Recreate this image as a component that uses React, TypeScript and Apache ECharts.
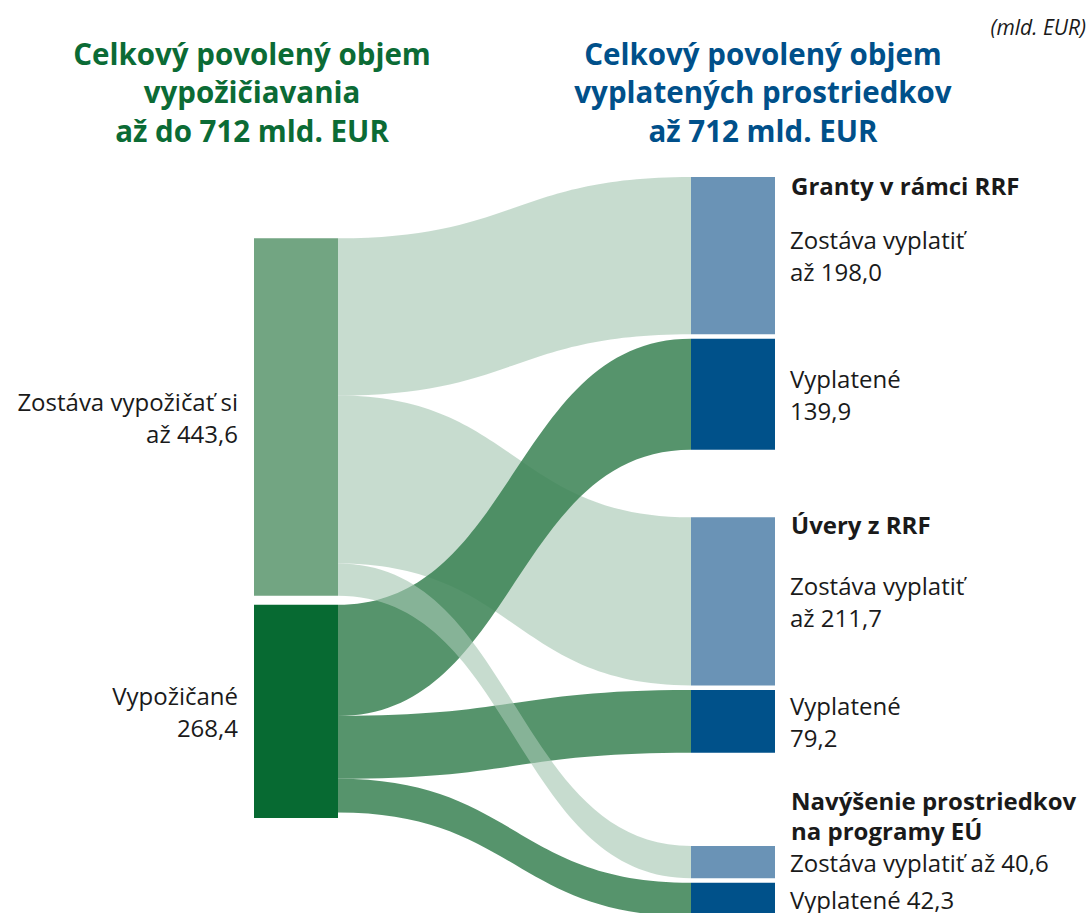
import React, { useEffect, useRef } from "react";
import * as echarts from "echarts";

// ---------------- data ----------------
const leftNames = ["Zostáva vypožičať si", "Vypožičané"];
const leftPrefix = ["až ", ""];
const leftValues = [443.6, 268.4];
const groupNames = ["Granty v rámci RRF", "Úvery z RRF", "Navýšenie prostriedkov\nna programy EÚ"];
const remainingName = "Zostáva vyplatiť";
const remainingPrefix = "až ";
const paidName = "Vyplatené";
const remainingValues = [198.0, 211.7, 40.6];
const paidValues = [139.9, 79.2, 42.3];
const leftTitle = ["Celkový povolený objem", "vypožičiavania", "až do 712 mld. EUR"];
const rightTitle = ["Celkový povolený objem", "vyplatených prostriedkov", "až 712 mld. EUR"];
const unitNote = "(mld. EUR)";

// ---------------- layout ----------------
const S_LEFT = 254;
const S_TOP = 177;
const S_WIDTH = 521;
const S_HEIGHT = 587.6;
const NODE_W = 84;
const NODE_GAP = 4.5;
const LEFT_START = 61.3;
const LEFT_GAP = 9;
const GROUP_GAPS = [67.5, 93.2];
const SINGLE_LINE = [false, false, true];
const HEADING_OFFSET = [8, 7, -30];
const LABEL_X = 791;

const FONT = '"Open Sans", "Noto Sans", sans-serif';
const FS = 24;
const LH = 32;
const HEAD_FS = 24;
const HEAD_LH = 30;
const TITLE_FS = 29.5;
const TEXT = "#1a1a1a";
const GREEN_TITLE = "#0b6b35";
const BLUE_TITLE = "#00508a";
const NODE_LIGHT_GREEN = "#72a582";
const NODE_DARK_GREEN = "#076a32";
const NODE_LIGHT_BLUE = "#6a93b6";
const NODE_DARK_BLUE = "#00518a";
const LINK_LIGHT = "#a4c6b1";
const LINK_LIGHT_OP = 0.62;
const LINK_DARK = "#3a8254";
const LINK_DARK_OP = 0.86;

const fmt = (v: number) => v.toFixed(1).replace(".", ",");
const sum = (a: number[]) => a.reduce((s, v) => s + v, 0);

function buildOption() {
  const remSum = sum(remainingValues);
  const paidSum = sum(paidValues);
  const leftLayoutVals = [Math.max(leftValues[0], remSum), Math.max(leftValues[1], paidSum)];
  const nRight = remainingValues.length + paidValues.length;
  const kyRight = (S_HEIGHT - (nRight - 1) * NODE_GAP) / (remSum + paidSum);
  const kyLeft = (S_HEIGHT - (leftLayoutVals.length - 1) * NODE_GAP) / sum(leftLayoutVals);
  const ky = Math.min(kyRight, kyLeft);

  const leftTops = [LEFT_START, LEFT_START + leftLayoutVals[0] * ky + LEFT_GAP];
  const remTops: number[] = [];
  const paidTops: number[] = [];
  let y = 0;
  for (let i = 0; i < groupNames.length; i++) {
    remTops.push(y);
    y += remainingValues[i] * ky + NODE_GAP;
    paidTops.push(y);
    y += paidValues[i] * ky;
    if (i < GROUP_GAPS.length) y += GROUP_GAPS[i];
  }

  const labelBase = {
    fontFamily: FONT,
    fontSize: FS,
    lineHeight: LH,
    color: TEXT,
  };

  const nodes: any[] = [];
  leftNames.forEach((n, i) => {
    nodes.push({
      name: "L" + i,
      value: leftValues[i],
      localY: leftTops[i] / S_HEIGHT,
      itemStyle: { color: i === 0 ? NODE_LIGHT_GREEN : NODE_DARK_GREEN },
      label: {
        ...labelBase,
        position: "left",
        distance: 16,
        align: "right",
        formatter: `${n}\n${leftPrefix[i]}${fmt(leftValues[i])}`,
      },
    });
  });
  groupNames.forEach((g, i) => {
    const sep = SINGLE_LINE[i] ? " " : "\n";
    nodes.push({
      name: "R" + i,
      localY: remTops[i] / S_HEIGHT,
      itemStyle: { color: NODE_LIGHT_BLUE },
      label: {
        ...labelBase,
        position: "right",
        distance: 15,
        formatter: `${remainingName}${sep}${remainingPrefix}${fmt(remainingValues[i])}`,
      },
    });
    nodes.push({
      name: "P" + i,
      localY: paidTops[i] / S_HEIGHT,
      itemStyle: { color: NODE_DARK_BLUE },
      label: {
        ...labelBase,
        position: "right",
        distance: 15,
        formatter: `${paidName}${sep}${fmt(paidValues[i])}`,
      },
    });
  });

  const lightStyle = { color: LINK_LIGHT, opacity: LINK_LIGHT_OP };
  const darkStyle = { color: LINK_DARK, opacity: LINK_DARK_OP };
  const links: any[] = [];
  // drawing order: light links to groups 0,1; dark links; light link to last group on top
  for (let i = 0; i < remainingValues.length - 1; i++) {
    links.push({ source: "L0", target: "R" + i, value: remainingValues[i], lineStyle: lightStyle });
  }
  for (let i = 0; i < paidValues.length; i++) {
    links.push({ source: "L1", target: "P" + i, value: paidValues[i], lineStyle: darkStyle });
  }
  const last = remainingValues.length - 1;
  links.push({ source: "L0", target: "R" + last, value: remainingValues[last], lineStyle: lightStyle });

  const graphics: any[] = [];
  groupNames.forEach((g, i) => {
    graphics.push({
      type: "text",
      x: LABEL_X,
      y: S_TOP + remTops[i] + HEADING_OFFSET[i],
      style: {
        text: g,
        fill: TEXT,
        fontFamily: FONT,
        fontSize: HEAD_FS,
        fontWeight: "bold",
        lineHeight: HEAD_LH,
        align: "left",
        verticalAlign: "middle",
      },
    });
  });
  const titleYs = [53, 91.5, 130];
  leftTitle.forEach((t, i) => {
    graphics.push({
      type: "text",
      x: 252,
      y: titleYs[i],
      style: { text: t, fill: GREEN_TITLE, fontFamily: FONT, fontSize: TITLE_FS, fontWeight: "bold", align: "center", verticalAlign: "middle" },
    });
  });
  rightTitle.forEach((t, i) => {
    graphics.push({
      type: "text",
      x: 763,
      y: titleYs[i],
      style: { text: t, fill: BLUE_TITLE, fontFamily: FONT, fontSize: TITLE_FS, fontWeight: "bold", align: "center", verticalAlign: "middle" },
    });
  });
  graphics.push({
    type: "text",
    x: 1086,
    y: 27,
    style: { text: unitNote, fill: TEXT, fontFamily: FONT, fontSize: 21, fontStyle: "italic", align: "right", verticalAlign: "middle" },
  });

  return {
    animation: false,
    backgroundColor: "#ffffff",
    graphic: graphics,
    series: [
      {
        type: "sankey",
        left: S_LEFT,
        top: S_TOP,
        width: S_WIDTH,
        height: S_HEIGHT,
        nodeWidth: NODE_W,
        nodeGap: NODE_GAP,
        layoutIterations: 0,
        draggable: false,
        nodeAlign: "justify",
        emphasis: { disabled: true },
        itemStyle: { borderWidth: 0 },
        lineStyle: { curveness: 0.5 },
        data: nodes,
        links: links,
      },
    ],
  };
}

export default function App() {
  const ref = useRef<HTMLDivElement>(null);
  useEffect(() => {
    if (!ref.current) return;
    const chart = echarts.init(ref.current, undefined, { renderer: "svg" });
    chart.setOption(buildOption() as any);
    return () => chart.dispose();
  }, []);
  return (
    <div
      ref={ref}
      style={{ position: "absolute", left: 0, top: 0, width: 1089, height: 913, background: "#fff" }}
    />
  );
}
